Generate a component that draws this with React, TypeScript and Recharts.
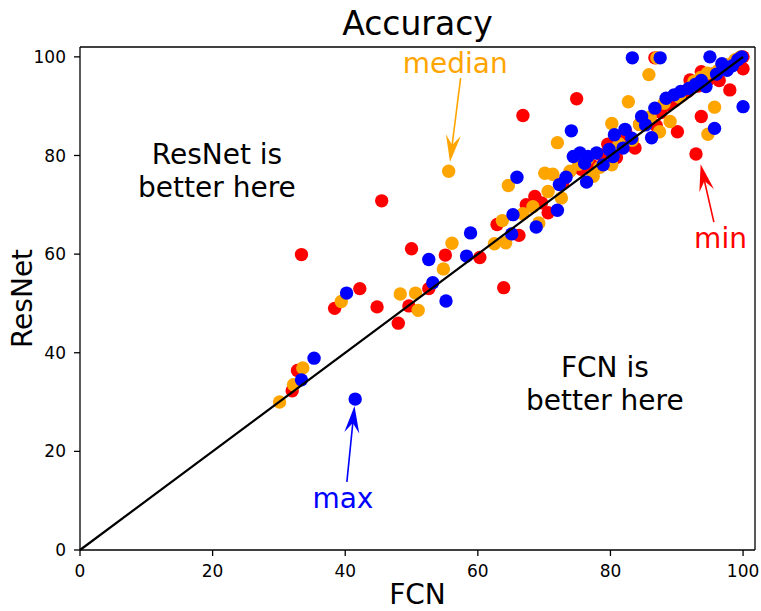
import React from 'react';
import { ScatterChart, Scatter, XAxis, YAxis, ReferenceLine, ReferenceDot, Label } from 'recharts';

// [FCN, ResNet] accuracy pairs
const minPoints: [number, number][] = [
  [32.0, 32.3], [32.8, 36.4], [33.4, 59.9], [38.4, 49.0], [42.2, 53.0], [44.8, 49.3], [45.5, 70.8],
  [48.0, 46.0], [49.6, 49.5], [50.0, 61.1], [52.6, 53.0], [55.1, 59.8], [60.3, 59.3], [62.9, 66.0],
  [63.9, 53.2], [66.2, 63.8], [66.8, 88.1], [67.3, 70.0], [68.6, 71.7], [69.6, 70.4], [70.6, 68.4],
  [72.8, 74.5], [74.9, 91.5], [75.6, 77.2], [77.2, 78.0], [78.6, 80.1], [79.6, 82.3], [80.9, 79.6],
  [81.4, 83.2], [82.3, 84.8], [83.7, 81.5], [84.4, 86.3], [85.4, 87.4], [86.7, 99.8], [86.9, 86.1],
  [87.6, 88.7], [88.6, 90.3], [89.6, 91.0], [90.1, 84.8], [90.8, 92.2], [91.7, 93.0], [92.0, 95.3],
  [92.9, 80.3], [93.2, 94.1], [93.7, 87.9], [93.7, 97.0], [94.8, 95.4], [95.6, 96.6], [96.4, 95.2],
  [97.1, 97.8], [98.0, 93.3], [98.6, 98.9], [99.4, 99.5], [100, 97.6], [100, 100],
];

const medianPoints: [number, number][] = [
  [30.1, 30.0], [32.2, 33.5], [33.6, 36.9], [39.4, 50.4], [48.3, 51.9], [50.6, 52.1], [51.0, 48.6],
  [54.8, 57.0], [55.6, 76.8], [56.1, 62.2], [62.5, 62.1], [63.7, 66.8], [64.2, 62.3], [64.6, 73.9],
  [66.8, 68.2], [68.3, 69.6], [69.2, 66.3], [70.1, 76.4], [70.6, 72.7], [71.3, 76.2], [72.0, 82.6],
  [72.6, 71.4], [73.9, 76.8], [75.2, 78.2], [76.5, 79.3], [77.4, 75.8], [78.4, 77.6], [80.2, 78.1],
  [80.2, 86.5], [81.3, 82.4], [82.7, 90.9], [83.3, 83.1], [84.4, 86.3], [85.8, 96.4], [86.0, 87.8],
  [87.0, 99.8], [87.4, 84.8], [88.1, 90.6], [89.0, 86.9], [90.4, 91.8], [91.8, 93.6], [92.6, 95.0],
  [93.6, 95.8], [94.7, 84.3], [94.6, 96.7], [95.7, 89.8], [96.2, 97.2], [97.4, 98.4], [98.8, 99.4],
  [99.6, 100],
];

const maxPoints: [number, number][] = [
  [33.4, 34.5], [35.3, 38.9], [40.2, 52.1], [41.5, 30.6], [52.6, 58.9], [53.2, 54.2], [55.2, 50.5],
  [58.3, 59.6], [58.9, 64.3], [65.1, 64.1], [65.3, 68.0], [65.9, 75.6], [68.8, 65.5], [72.0, 68.9],
  [72.3, 74.1], [73.3, 75.6], [74.1, 85.0], [74.4, 79.8], [75.4, 80.5], [76.1, 78.4], [76.4, 74.6],
  [76.6, 79.8], [77.9, 80.5], [78.9, 78.1], [79.8, 81.2], [80.4, 79.8], [80.6, 84.2], [81.9, 81.5],
  [82.2, 85.3], [83.2, 83.5], [83.3, 99.8], [84.7, 87.9], [85.3, 86.2], [86.2, 83.6], [86.7, 89.6],
  [87.5, 99.8], [88.4, 91.6], [89.6, 92.3], [90.6, 93.0], [91.8, 93.6], [92.8, 94.4], [93.7, 95.2],
  [94.4, 94.0], [95.0, 100], [95.7, 85.5], [96.0, 96.5], [96.8, 98.6], [97.6, 97.3], [98.4, 98.2],
  [99.2, 99.4], [99.8, 100], [100, 89.9],
];

const diagonal = [0, 100];
const xTicks = [0, 20, 40, 60, 80, 100];
const yTicks = [0, 20, 40, 60, 80, 100];
const xMax = 101.8;
const yMax = 102;

const RED = '#ff0000';
const ORANGE = '#ffa500';
const BLUE = '#0000ff';
const FONT = '"DejaVu Sans", sans-serif';

// annotation arrows: text anchor, arrow tail, arrow tip (data coords)
const arrows = [
  { label: 'median', color: ORANGE, text: [56.6, 98.7], tail: [57.4, 95.7], tip: [55.8, 78.7] },
  { label: 'min', color: RED, text: [96.6, 63.2], tail: [95.6, 66.5], tip: [93.6, 78.2] },
  { label: 'max', color: BLUE, text: [39.65, 10.5], tail: [40.25, 13.8], tip: [41.4, 29.2] },
];

const regionNotes = [
  { lines: ['ResNet is', 'better here'], at: [20.65, 77.0] },
  { lines: ['FCN is', 'better here'], at: [79.15, 33.75] },
];

const toXY = (pts: [number, number][]) => pts.map(([x, y]) => ({ x, y }));

const dot = (color: string) => (p: any) => <circle cx={p.cx} cy={p.cy} r={6.7} fill={color} />;

const Arrow = (props: any) => {
  const { x1, y1, x2, y2, color } = props;
  const dx = x2 - x1;
  const dy = y2 - y1;
  const len = Math.hypot(dx, dy) || 1;
  const ux = dx / len;
  const uy = dy / len;
  const px = -uy;
  const py = ux;
  const headLen = 27;
  const notch = 17;
  const half = 7.5;
  const bx = x2 - ux * headLen;
  const by = y2 - uy * headLen;
  const nx = x2 - ux * notch;
  const ny = y2 - uy * notch;
  const pts = [
    [x2, y2],
    [bx + px * half, by + py * half],
    [nx, ny],
    [bx - px * half, by - py * half],
  ]
    .map((q) => q.join(','))
    .join(' ');
  return (
    <g>
      <line x1={x1} y1={y1} x2={nx} y2={ny} stroke={color} strokeWidth={1.6} />
      <polygon points={pts} fill={color} />
    </g>
  );
};

export default function App() {
  return (
    <div style={{ position: 'absolute', left: 0, top: 0, width: 761, height: 611, background: '#fff', fontFamily: FONT }}>
      <div
        style={{
          position: 'absolute',
          left: 80,
          top: 7,
          width: 675,
          textAlign: 'center',
          fontSize: 33,
          lineHeight: '33px',
          color: '#000',
        }}
      >
        Accuracy
      </div>
      <ScatterChart width={761} height={611} margin={{ top: 47, right: 6, left: 0, bottom: 0 }}>
        <XAxis
          type="number"
          dataKey="x"
          domain={[0, xMax]}
          ticks={xTicks}
          height={61}
          axisLine={{ stroke: '#000', strokeWidth: 1.3 }}
          tickLine={{ stroke: '#000', strokeWidth: 1.3 }}
          tickSize={6}
          tickMargin={9}
          tick={{ fill: '#000', fontSize: 17, fontFamily: FONT }}
        >
          <Label
            content={(p: any) => (
              <text
                x={p.viewBox.x + p.viewBox.width / 2}
                y={p.viewBox.y + p.viewBox.height - 7}
                textAnchor="middle"
                fontSize={28}
                fontFamily={FONT}
                fill="#000"
              >
                FCN
              </text>
            )}
          />
        </XAxis>
        <YAxis
          type="number"
          dataKey="y"
          domain={[0, yMax]}
          ticks={yTicks}
          width={80}
          axisLine={{ stroke: '#000', strokeWidth: 1.3 }}
          tickLine={{ stroke: '#000', strokeWidth: 1.3 }}
          tickSize={6}
          tickMargin={8}
          tick={{ fill: '#000', fontSize: 17, fontFamily: FONT }}
        >
          <Label
            content={(p: any) => {
              const cx = p.viewBox.x + 22;
              const cy = p.viewBox.y + p.viewBox.height / 2;
              return (
                <text
                  x={cx}
                  y={cy}
                  dy="0.36em"
                  transform={`rotate(-90 ${cx} ${cy})`}
                  textAnchor="middle"
                  fontSize={28}
                  fontFamily={FONT}
                  fill="#000"
                >
                  ResNet
                </text>
              );
            }}
          />
        </YAxis>
        <ReferenceLine y={yMax} stroke="#000" strokeWidth={1.3} ifOverflow="visible" />
        <ReferenceLine x={xMax} stroke="#000" strokeWidth={1.3} ifOverflow="visible" />

        <Scatter name="min" data={toXY(minPoints)} shape={dot(RED)} isAnimationActive={false} />
        <Scatter name="median" data={toXY(medianPoints)} shape={dot(ORANGE)} isAnimationActive={false} />
        <Scatter name="max" data={toXY(maxPoints)} shape={dot(BLUE)} isAnimationActive={false} />
        <Scatter
          name="diagonal"
          data={diagonal.map((v) => ({ x: v, y: v }))}
          line={{ stroke: '#000', strokeWidth: 2.2 }}
          shape={() => <g />}
          isAnimationActive={false}
        />

        {arrows.map((a) => (
          <ReferenceLine
            key={`arrow-${a.label}`}
            segment={[
              { x: a.tail[0], y: a.tail[1] },
              { x: a.tip[0], y: a.tip[1] },
            ]}
            ifOverflow="visible"
            shape={(p: any) => <Arrow {...p} color={a.color} />}
          />
        ))}
        {arrows.map((a) => (
          <ReferenceDot
            key={`text-${a.label}`}
            x={a.text[0]}
            y={a.text[1]}
            r={1}
            ifOverflow="visible"
            shape={(p: any) => (
              <text x={p.cx} y={p.cy} dy="0.36em" textAnchor="middle" fontSize={28} fontFamily={FONT} fill={a.color}>
                {a.label}
              </text>
            )}
          />
        ))}
        {regionNotes.map((n) => (
          <ReferenceDot
            key={n.lines[0]}
            x={n.at[0]}
            y={n.at[1]}
            r={1}
            ifOverflow="visible"
            shape={(p: any) => (
              <text x={p.cx} y={p.cy} textAnchor="middle" fontSize={28} fontFamily={FONT} fill="#000">
                <tspan x={p.cx} dy="-0.24em">
                  {n.lines[0]}
                </tspan>
                <tspan x={p.cx} dy="1.2em">
                  {n.lines[1]}
                </tspan>
              </text>
            )}
          />
        ))}
      </ScatterChart>
    </div>
  );
}
